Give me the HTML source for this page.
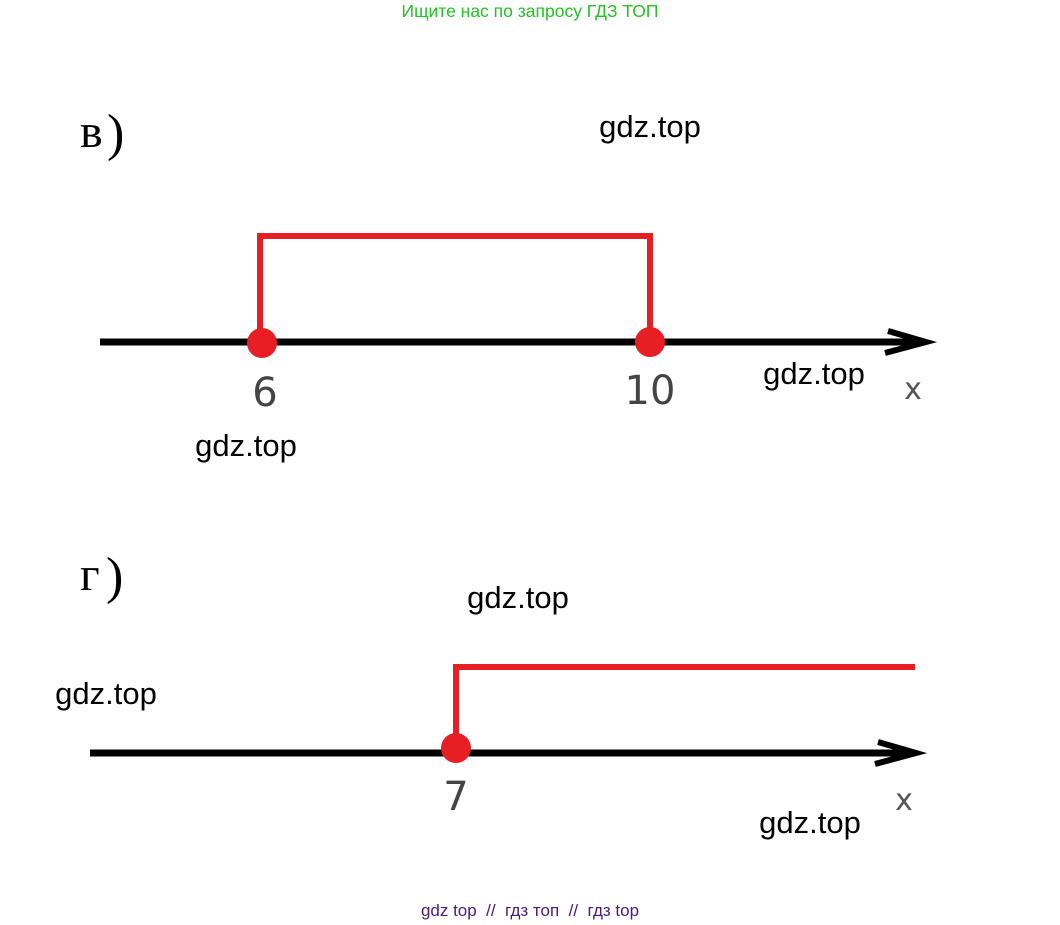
<!DOCTYPE html>
<html><head><meta charset="utf-8"><style>
html,body{margin:0;padding:0;background:#fff;width:1060px;height:925px;overflow:hidden}
svg{display:block}
</style></head><body>
<svg width="1060" height="925" xmlns="http://www.w3.org/2000/svg">
<text x="530" y="17" font-family="Liberation Sans, sans-serif" font-size="17.5" fill="#22c322" text-anchor="middle">Ищите нас по запросу ГДЗ ТОП</text>
<text x="80" y="147" font-family="Liberation Serif, serif" font-size="48" fill="#000">в</text>
<text x="107" y="150" font-family="Liberation Serif, serif" font-size="52" fill="#000">)</text>
<text x="650" y="137" font-family="Liberation Sans, sans-serif" font-size="31" fill="#000" text-anchor="middle">gdz.top</text>
<line x1="100" y1="342" x2="922" y2="342" stroke="#000" stroke-width="7"/>
<path d="M888 331 L926 342 L885 353" stroke="#000" stroke-width="6" fill="none"/>
<polyline points="260,342 260,236 650,236 650,342" stroke="#e81e25" stroke-width="6" fill="none"/>
<circle cx="262" cy="343" r="15" fill="#e81e25"/>
<circle cx="650" cy="342" r="15" fill="#e81e25"/>
<text x="265" y="406" font-family="DejaVu Sans, sans-serif" font-size="40" fill="#444" text-anchor="middle">6</text>
<text x="650" y="404" font-family="DejaVu Sans, sans-serif" font-size="40" fill="#444" text-anchor="middle">10</text>
<text x="913" y="399" font-family="DejaVu Sans, sans-serif" font-size="30" fill="#555" text-anchor="middle">x</text>
<text x="814" y="384" font-family="Liberation Sans, sans-serif" font-size="31" fill="#000" text-anchor="middle">gdz.top</text>
<text x="246" y="456" font-family="Liberation Sans, sans-serif" font-size="31" fill="#000" text-anchor="middle">gdz.top</text>
<text x="80" y="590" font-family="Liberation Serif, serif" font-size="48" fill="#000">г</text>
<text x="106" y="593" font-family="Liberation Serif, serif" font-size="52" fill="#000">)</text>
<text x="518" y="608" font-family="Liberation Sans, sans-serif" font-size="31" fill="#000" text-anchor="middle">gdz.top</text>
<text x="106" y="704" font-family="Liberation Sans, sans-serif" font-size="31" fill="#000" text-anchor="middle">gdz.top</text>
<line x1="90" y1="753" x2="912" y2="753" stroke="#000" stroke-width="7"/>
<path d="M878 742 L916 753 L875 764" stroke="#000" stroke-width="6" fill="none"/>
<polyline points="456,748 456,667 915,667" stroke="#e81e25" stroke-width="6" fill="none"/>
<circle cx="456" cy="748" r="15" fill="#e81e25"/>
<text x="456" y="810" font-family="DejaVu Sans, sans-serif" font-size="40" fill="#444" text-anchor="middle">7</text>
<text x="904" y="810" font-family="DejaVu Sans, sans-serif" font-size="30" fill="#555" text-anchor="middle">x</text>
<text x="810" y="833" font-family="Liberation Sans, sans-serif" font-size="31" fill="#000" text-anchor="middle">gdz.top</text>
<text x="530" y="916" font-family="Liberation Sans, sans-serif" font-size="17" fill="#4b1a7a" text-anchor="middle" xml:space="preserve" style="white-space:pre">gdz top  //  гдз топ  //  гдз top</text>
</svg>
</body></html>
